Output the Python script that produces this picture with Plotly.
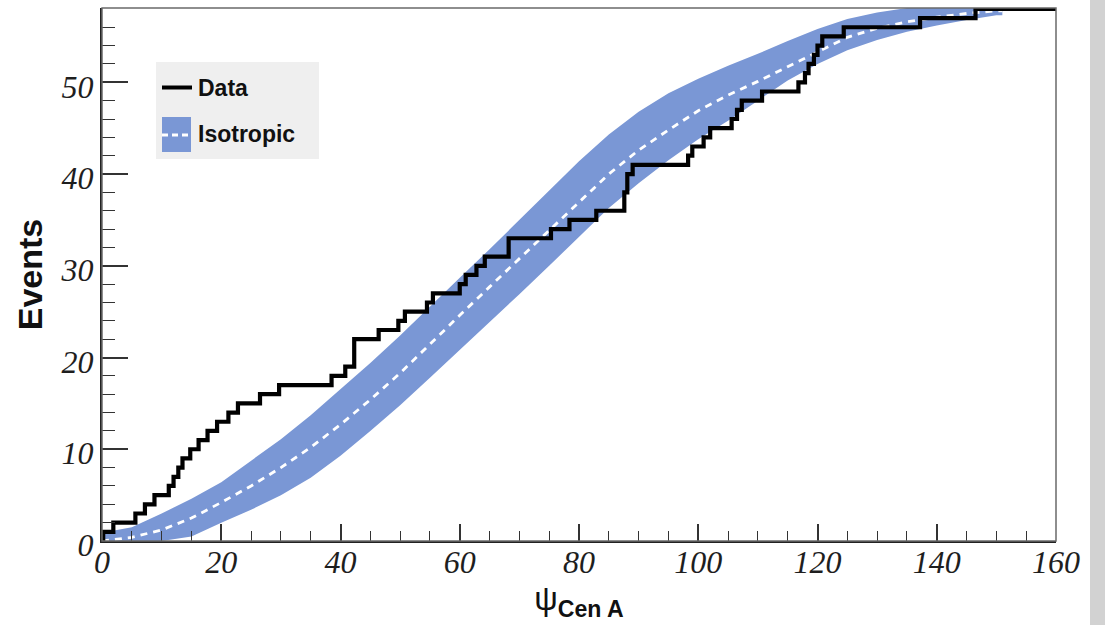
import plotly.graph_objects as go

# ---------------- data ----------------
# Observed events: cumulative count vs angular distance psi to Cen A (deg)
data_psi = [0, 0.2, 1.9, 5.6, 7.2, 8.8, 11.2, 12.0, 12.8, 13.5, 14.8, 16.2, 17.7, 19.3,
            21.2, 22.8, 26.5, 29.7, 38.5, 40.8, 42.3, 46.4, 49.7, 50.8, 54.5, 55.5,
            60.0, 61.0, 62.8, 64.2, 68.2, 75.3, 78.4, 82.9, 87.6, 88.1, 89.0, 98.3,
            99.0, 100.9, 102.0, 105.6, 106.5, 107.3, 110.7, 116.8, 117.9, 118.5,
            119.4, 120.0, 120.8, 124.4, 137.2, 146.5, 160]
data_counts = [0, 1, 2, 3, 4, 5, 6, 7, 8, 9, 10, 11, 12, 13, 14, 15, 16, 17, 18, 19,
               22, 23, 24, 25, 26, 27, 28, 29, 30, 31, 33, 34, 35, 36, 38, 40, 41, 42,
               43, 44, 45, 46, 47, 48, 49, 50, 51, 52, 53, 54, 55, 56, 57, 58, 58]

# Isotropic expectation (dashed) and its band
iso_psi = [0, 5, 10, 15, 20, 25, 30, 35, 40, 45, 50, 55, 60, 65, 70, 75, 80, 85,
           90, 95, 100, 105, 110, 115, 120, 125, 130, 135, 140, 145, 150, 151]
iso_mean = [0, 0.4, 1.2, 2.5, 4.2, 6.0, 8.0, 10.2, 12.7, 15.4, 18.3, 21.5, 24.6,
            27.7, 30.8, 33.9, 37.0, 40.0, 42.6, 44.8, 46.9, 48.6, 50.1, 51.7, 53.3,
            54.9, 55.9, 56.6, 57.1, 57.5, 57.8, 57.8]
iso_low = [0, 0, 0, 0.5, 2.0, 3.4, 5.0, 6.9, 9.3, 12.0, 14.8, 17.8, 20.8, 23.8,
           26.9, 30.0, 33.2, 36.3, 39.0, 41.5, 43.8, 45.8, 48.0, 50.2, 52.0, 53.5,
           54.6, 55.5, 56.2, 56.8, 57.3, 57.3]
iso_high = [0.9, 1.5, 3.0, 4.6, 6.4, 8.7, 11.1, 13.7, 16.5, 19.4, 22.4, 25.6, 28.7,
            31.8, 35.0, 38.2, 41.4, 44.3, 46.8, 48.8, 50.4, 51.8, 53.1, 54.5, 55.8,
            56.9, 57.6, 58.1, 58.3, 58.3, 58.3, 58.3]

x_ticks = [0, 20, 40, 60, 80, 100, 120, 140, 160]
y_ticks = [0, 10, 20, 30, 40, 50]

BAND = "#7a97d5"
W, H = 1105, 625
ML, MR, MT, MB = 102, 49, 8, 84
PW, PH = W - ML - MR, H - MT - MB


def px(xp):
    return (xp - ML) / PW


def py(yp):
    return (H - MB - yp) / PH


fig = go.Figure()

fig.add_trace(go.Scatter(x=iso_psi, y=iso_low, mode="lines", line=dict(width=0),
                         showlegend=False, hoverinfo="skip"))
fig.add_trace(go.Scatter(x=iso_psi, y=iso_high, mode="lines", line=dict(width=0),
                         fill="tonexty", fillcolor=BAND, name="Isotropic",
                         showlegend=False))
fig.add_trace(go.Scatter(x=iso_psi, y=iso_mean, mode="lines",
                         line=dict(color="white", width=2.8, dash="7px,6px"),
                         showlegend=False))
fig.add_trace(go.Scatter(x=data_psi, y=data_counts, mode="lines", name="Data",
                         line=dict(color="black", width=4.2, shape="hv"),
                         showlegend=False))

axis_common = dict(showgrid=False, zeroline=False, showline=True, linecolor="#222",
                   linewidth=2, ticks="inside", tickcolor="#333", tickwidth=1.6,
                   tickfont=dict(family="Liberation Serif, Times New Roman, serif",
                                 style="italic", size=32, color="#1e1e1e"))

fig.update_xaxes(range=[0, 160], tickvals=x_ticks, ticklen=17,
                 minor=dict(dtick=5, ticklen=10, ticks="inside", tickcolor="#333",
                            tickwidth=1.3),
                 ticklabelstandoff=-8,
                 title=dict(text="ψ<sub><b>Cen A</b></sub>",
                            font=dict(family="Liberation Sans, Arial, sans-serif",
                                      size=33, color="#111"), standoff=2),
                 **axis_common)
fig.update_yaxes(range=[0, 58.1], tickvals=y_ticks, ticklen=26,
                 minor=dict(dtick=2, ticklen=13, ticks="inside", tickcolor="#333",
                            tickwidth=1.3),
                 ticklabelshift=4, ticklabelstandoff=0,
                 title=dict(text="<b>Events</b>",
                            font=dict(family="Liberation Sans, Arial, sans-serif",
                                      size=34, color="#111"), standoff=8),
                 **axis_common)

shapes = [
    # frame (top/right)
    dict(type="rect", xref="paper", yref="paper", x0=0, x1=1, y0=0, y1=1,
         line=dict(color="#6a6a6a", width=1.5), layer="above"),
    # right grey strip of the slide
    dict(type="rect", xref="paper", yref="paper", x0=px(1090), x1=px(1106),
         y0=py(626), y1=py(-1), fillcolor="#d2d2d2", line=dict(width=0)),
    # legend
    dict(type="rect", xref="paper", yref="paper", x0=px(156), x1=px(319),
         y0=py(159), y1=py(62), fillcolor="#efefef", line=dict(width=0)),
    dict(type="line", xref="paper", yref="paper", x0=px(162), x1=px(192),
         y0=py(87.5), y1=py(87.5), line=dict(color="black", width=4)),
    dict(type="rect", xref="paper", yref="paper", x0=px(162), x1=px(191),
         y0=py(152), y1=py(117), fillcolor=BAND, line=dict(width=0)),
    dict(type="line", xref="paper", yref="paper", x0=px(162), x1=px(191),
         y0=py(135), y1=py(135), line=dict(color="white", width=2.8, dash="6px,4px")),
]
annotations = [
    dict(xref="paper", yref="paper", x=px(196), y=py(88), text="<b>Data</b>",
         showarrow=False, xanchor="left", yanchor="middle",
         font=dict(family="Liberation Sans, Arial, sans-serif", size=23, color="#111")),
    dict(xref="paper", yref="paper", x=px(196), y=py(134), text="<b>Isotropic</b>",
         showarrow=False, xanchor="left", yanchor="middle",
         font=dict(family="Liberation Sans, Arial, sans-serif", size=23, color="#111")),
]

fig.update_layout(width=W, height=H, margin=dict(l=ML, r=MR, t=MT, b=MB),
                  plot_bgcolor="white", paper_bgcolor="white",
                  shapes=shapes, annotations=annotations, showlegend=False)

fig.write_html("out.html", config={"displayModeBar": False},
               post_script="document.body.style.margin='0px';"
                           "document.body.style.overflow='hidden';")
